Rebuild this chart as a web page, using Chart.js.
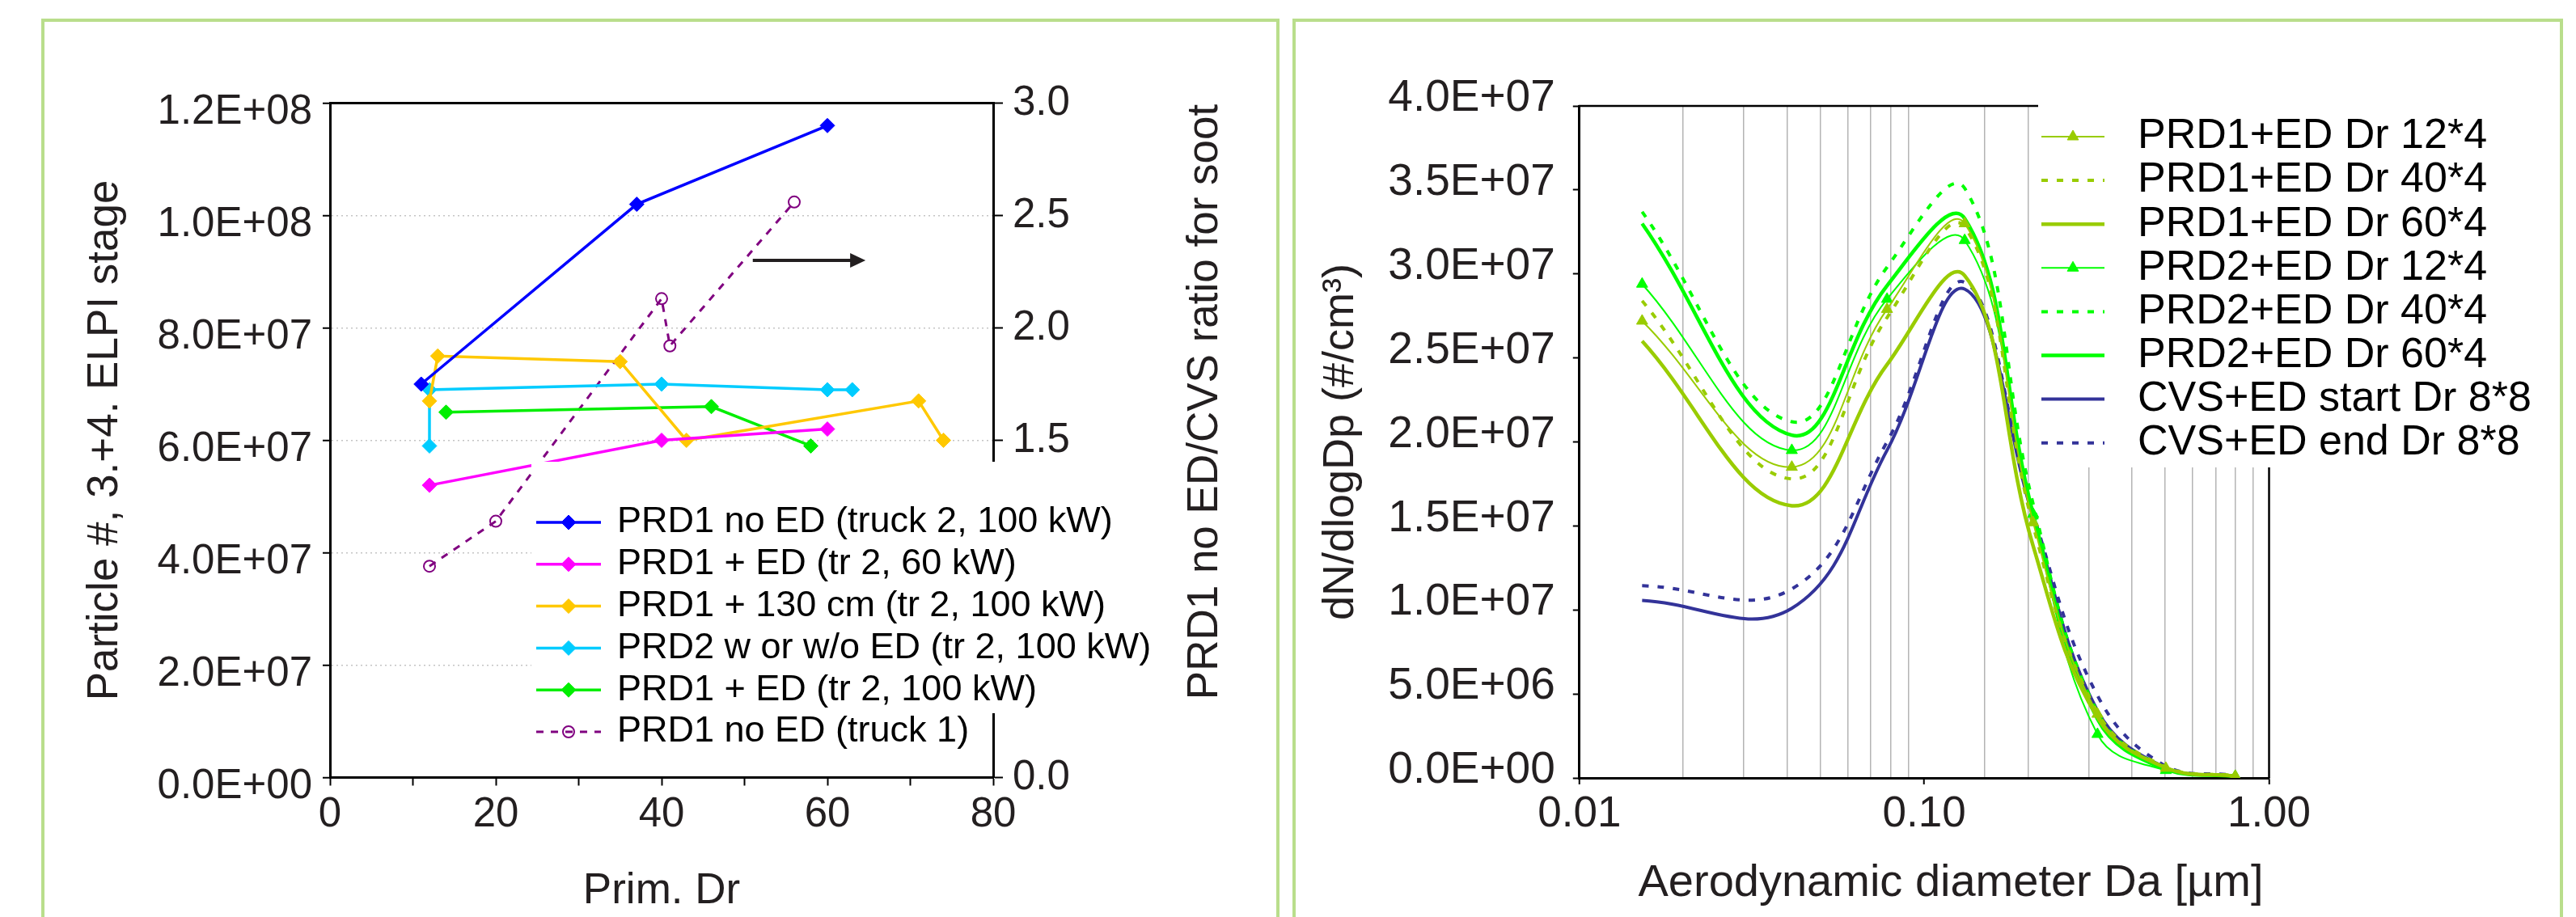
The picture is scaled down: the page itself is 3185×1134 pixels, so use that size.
<!DOCTYPE html>
<html>
<head>
<meta charset="utf-8">
<script src="https://cdn.jsdelivr.net/npm/chart.js@4.4.1/dist/chart.umd.min.js"></script>
<style>
  html, body { margin:0; padding:0; background:#ffffff; width:3185px; height:1134px; overflow:hidden; }
  .panel { position:absolute; border:4px solid #b9de8c; box-sizing:border-box; }
  #p1 { left:51px; top:23px; width:1531px; height:1200px; }
  #p2 { left:1598px; top:23px; width:1571px; height:1200px; }
  canvas { position:absolute; top:0; }
  #c1 { left:0; }
  #c2 { left:1590px; }
</style>
</head>
<body>
<div class="panel" id="p1"></div>
<div class="panel" id="p2"></div>
<canvas id="c1" width="1590" height="1134"></canvas>
<canvas id="c2" width="1595" height="1134"></canvas>
<script>
// ---------------- LEFT CHART DATA (Prim. Dr vs particle number / ratio) ----------------
const truck2NoEd_dr = [11, 37, 60];
const truck2NoEd_n  = [7.0e7, 1.02e8, 1.16e8];
const ed60_dr = [12, 40, 60];
const ed60_n  = [5.2e7, 6.0e7, 6.2e7];
const cm130_dr = [12, 13, 35, 43, 71, 74];
const cm130_n  = [6.7e7, 7.5e7, 7.4e7, 6.0e7, 6.7e7, 6.0e7];
const prd2_dr = [12, 12, 40, 60, 63];
const prd2_n  = [5.9e7, 6.9e7, 7.0e7, 6.9e7, 6.9e7];
const ed100_dr = [14, 46, 58];
const ed100_n  = [6.5e7, 6.6e7, 5.9e7];
const truck1_dr    = [12, 20, 40, 41, 56];
const truck1_ratio = [0.94, 1.14, 2.13, 1.92, 2.56];
const leftLabels = ['PRD1 no ED (truck 2, 100 kW)', 'PRD1 + ED (tr 2, 60 kW)', 'PRD1 + 130 cm (tr 2, 100 kW)',
                    'PRD2 w or w/o ED (tr 2, 100 kW)', 'PRD1 + ED (tr 2, 100 kW)', 'PRD1 no ED (truck 1)'];
const arrowNote = { from: 51, to: 64.6, at: 9.2e7 };   // arrow pointing to right axis (data units)

// ---------------- RIGHT CHART DATA (size distributions) ----------------
const diameterUm = [0.0152, 0.0413, 0.078, 0.131, 0.207, 0.318, 0.502, 0.798];
const prd1Ed12 = [2.72e7, 1.85e7, 2.79e7, 3.30e7, 1.52e7, 3.8e6, 5.8e5, 1.0e5];
const prd1Ed40 = [2.84e7, 1.78e7, 2.74e7, 3.28e7, 1.50e7, 3.9e6, 6.5e5, 1.2e5];
const prd1Ed60 = [2.60e7, 1.62e7, 2.46e7, 2.99e7, 1.38e7, 3.6e6, 6.0e5, 1.0e5];
const prd2Ed12 = [2.94e7, 1.95e7, 2.85e7, 3.20e7, 1.57e7, 2.6e6, 4.5e5, 1.0e5];
const prd2Ed40 = [3.37e7, 2.12e7, 3.04e7, 3.51e7, 1.63e7, 3.9e6, 6.0e5, 1.0e5];
const prd2Ed60 = [3.30e7, 2.04e7, 2.93e7, 3.33e7, 1.57e7, 3.5e6, 5.0e5, 1.0e5];
const cvsStart = [1.057e7, 1.01e7, 1.95e7, 2.91e7, 1.55e7, 4.0e6, 6.0e5, 1.0e5];
const cvsEnd   = [1.144e7, 1.125e7, 2.00e7, 2.95e7, 1.57e7, 4.9e6, 7.0e5, 1.5e5];
const rightLabels = ['PRD1+ED Dr 12*4', 'PRD1+ED Dr 40*4', 'PRD1+ED Dr 60*4', 'PRD2+ED Dr 12*4',
                     'PRD2+ED Dr 40*4', 'PRD2+ED Dr 60*4', 'CVS+ED start Dr 8*8', 'CVS+ED end Dr 8*8'];
const rightXTickLabels = { '-2': '0.01', '-1': '0.10', '0': '1.00' };

// ---------------- helpers ----------------
const FONT = "'Liberation Sans', Arial, Helvetica, sans-serif";
const TXT = '#231f20';
const zip = (xs, ys) => xs.map((x, i) => ({ x: x, y: ys[i] }));
function sciLabel(v) {
  if (v === 0) return '0.0E+00';
  const parts = Number(v).toExponential(1).split('e');
  const n = parseInt(parts[1], 10);
  return parts[0] + 'E' + (n < 0 ? '-' : '+') + String(Math.abs(n)).padStart(2, '0');
}
function logMajor(v) { const l = Math.log10(v); return Math.abs(l - Math.round(l)) < 1e-6; }

function drawMarker(ctx, style, x, y, r, fill, stroke, bw) {
  ctx.save();
  ctx.beginPath();
  if (style === 'rectRot') {
    ctx.moveTo(x - r, y); ctx.lineTo(x, y - r); ctx.lineTo(x + r, y); ctx.lineTo(x, y + r); ctx.closePath();
  } else if (style === 'triangle') {
    const h = r;
    ctx.moveTo(x, y - h);
    ctx.lineTo(x + Math.sin(2 * Math.PI / 3) * h, y - Math.cos(2 * Math.PI / 3) * h);
    ctx.lineTo(x + Math.sin(4 * Math.PI / 3) * h, y - Math.cos(4 * Math.PI / 3) * h);
    ctx.closePath();
  } else {
    ctx.arc(x, y, r, 0, Math.PI * 2);
  }
  ctx.fillStyle = fill; ctx.fill();
  if (bw > 0) { ctx.lineWidth = bw; ctx.strokeStyle = stroke; ctx.stroke(); }
  ctx.restore();
}

// custom legend drawn on a white box inside the plot
const boxLegend = {
  id: 'boxLegend',
  afterDraw(chart, args, o) {
    const ctx = chart.ctx;
    ctx.save();
    ctx.fillStyle = '#ffffff';
    ctx.fillRect(o.box[0], o.box[1], o.box[2], o.box[3]);
    chart.data.datasets.forEach((ds, i) => {
      const y = o.y0 + i * o.dy;
      ctx.save();
      ctx.beginPath();
      ctx.setLineDash(ds.borderDash || []);
      ctx.lineWidth = ds.borderWidth;
      ctx.strokeStyle = ds.borderColor;
      ctx.moveTo(o.x0, y); ctx.lineTo(o.x1, y); ctx.stroke();
      ctx.restore();
      if (ds.legendMarker) {
        const pr = Array.isArray(ds.pointRadius) ? ds.pointRadius[0] : ds.pointRadius;
        drawMarker(ctx, ds.pointStyle, (o.x0 + o.x1) / 2, y, pr,
                   ds.pointBackgroundColor || ds.borderColor, ds.pointBorderColor || ds.borderColor, ds.pointBorderWidth || 1);
      }
      ctx.fillStyle = '#000000';
      ctx.font = o.font;
      ctx.textBaseline = 'middle';
      ctx.textAlign = 'left';
      ctx.fillText(ds.label, o.tx, y);
    });
    ctx.restore();
  }
};

// frame lines (top and optional right) of plot area
const frame = {
  id: 'frame',
  beforeDatasetsDraw(chart, args, o) {
    const { ctx, chartArea: a } = chart;
    ctx.save();
    ctx.strokeStyle = '#000'; ctx.lineWidth = o.width;
    ctx.beginPath();
    ctx.moveTo(a.left - 1, a.top); ctx.lineTo(a.right + 1, a.top);
    if (o.right) { ctx.moveTo(a.right, a.top); ctx.lineTo(a.right, a.bottom); }
    ctx.stroke();
    ctx.restore();
  }
};

// free text (titles that Chart.js cannot place/rotate this way)
const freeText = {
  id: 'freeText',
  afterDraw(chart, args, o) {
    const ctx = chart.ctx;
    (o.items || []).forEach(t => {
      ctx.save();
      ctx.translate(t.x, t.y);
      ctx.rotate(t.rot || 0);
      ctx.font = t.font; ctx.fillStyle = TXT;
      ctx.textAlign = 'center'; ctx.textBaseline = 'middle';
      ctx.fillText(t.text, 0, 0);
      ctx.restore();
    });
  }
};

// arrow annotation placed through the scales
const arrow = {
  id: 'arrow',
  afterDatasetsDraw(chart) {
    const { ctx, scales } = chart;
    const x0 = scales.x.getPixelForValue(arrowNote.from);
    const x1 = scales.x.getPixelForValue(arrowNote.to);
    const y = scales.y.getPixelForValue(arrowNote.at);
    ctx.save();
    ctx.strokeStyle = '#231f20'; ctx.fillStyle = '#231f20'; ctx.lineWidth = 4;
    ctx.beginPath(); ctx.moveTo(x0, y); ctx.lineTo(x1 - 16, y); ctx.stroke();
    ctx.beginPath(); ctx.moveTo(x1, y); ctx.lineTo(x1 - 19, y - 9); ctx.lineTo(x1 - 19, y + 9); ctx.closePath(); ctx.fill();
    ctx.restore();
  }
};

// ---------------- LEFT CHART ----------------
function leftDs(label, xs, ys, color, extra) {
  return Object.assign({
    label: label, data: zip(xs, ys), borderColor: color, backgroundColor: color,
    pointBackgroundColor: color, pointBorderColor: color, pointBorderWidth: 1,
    pointStyle: 'rectRot', pointRadius: 9, borderWidth: 3.5, tension: 0,
    yAxisID: 'y', legendMarker: true
  }, extra || {});
}
new Chart(document.getElementById('c1'), {
  type: 'line',
  data: {
    datasets: [
      leftDs(leftLabels[0], truck2NoEd_dr, truck2NoEd_n, '#0000ff'),
      leftDs(leftLabels[1], ed60_dr, ed60_n, '#ff00ff'),
      leftDs(leftLabels[2], cm130_dr, cm130_n, '#ffc800'),
      leftDs(leftLabels[3], prd2_dr, prd2_n, '#00ccff'),
      leftDs(leftLabels[4], ed100_dr, ed100_n, '#00ee00'),
      leftDs(leftLabels[5], truck1_dr, truck1_ratio, '#800080', {
        yAxisID: 'y1', borderDash: [9, 9], borderWidth: 3, pointStyle: 'circle', pointRadius: 7,
        pointBackgroundColor: 'rgba(255,255,255,0)', pointBorderWidth: 2
      })
    ]
  },
  options: {
    responsive: false, animation: false, events: [],
    layout: { padding: { left: 95, right: 0, top: 127.5, bottom: 0 } },
    plugins: {
      legend: { display: false }, tooltip: { enabled: false },
      frame: { width: 3, right: false },
      boxLegend: { box: [657, 571, 790, 311], x0: 663, x1: 743, tx: 763, y0: 646, dy: 51.8, font: '45px ' + FONT },
      freeText: { items: [{ text: 'PRD1 no ED/CVS ratio for soot', x: 1490, y: 497, rot: -Math.PI / 2, font: '53px ' + FONT }] }
    },
    scales: {
      x: {
        type: 'linear', min: 0, max: 80,
        ticks: { stepSize: 10, autoSkip: false, maxRotation: 0, color: TXT, padding: 6,
                 font: { family: FONT, size: 51 }, callback: v => (v % 20 === 0 ? String(v) : '') },
        grid: { drawOnChartArea: false, tickLength: 10, tickColor: '#000', tickWidth: 2 },
        border: { color: '#000', width: 3 },
        title: { display: true, text: 'Prim. Dr', color: TXT, font: { family: FONT, size: 53 }, padding: 0 },
        afterFit: s => { s.height = 172.5; }
      },
      y: {
        position: 'left', min: 0, max: 1.2e8,
        ticks: { stepSize: 2e7, color: TXT, padding: 13, labelOffset: 11,
                 font: { family: FONT, size: 51 }, callback: v => sciLabel(v) },
        grid: { color: '#c4c4c4', lineWidth: 1.5, tickLength: 9, tickColor: '#000', tickWidth: 2 },
        border: { color: '#000', width: 3, dash: [2, 4] },
        title: { display: true, text: 'Particle #, 3.+4. ELPI stage', color: TXT,
                 font: { family: FONT, size: 53 }, padding: { top: 4, bottom: 4 } },
        afterFit: s => { s.width = 313; }
      },
      y1: {
        position: 'right', min: 0, max: 3,
        ticks: { stepSize: 0.5, color: TXT, padding: 12, font: { family: FONT, size: 51 },
                 callback: v => Number(v).toFixed(1) },
        grid: { drawOnChartArea: false, tickLength: 12, tickColor: '#000', tickWidth: 2 },
        border: { color: '#000', width: 3 },
        afterFit: s => { s.width = 362; }
      }
    }
  },
  plugins: [frame, arrow, boxLegend, freeText]
});

// ---------------- RIGHT CHART ----------------
const YG = '#99cc00', GR = '#00ff00', BL = '#333399';
function rightDs(label, ys, color, width, dash, markers) {
  return {
    label: label, data: zip(diameterUm, ys), borderColor: color, backgroundColor: color,
    pointBackgroundColor: color, pointBorderColor: color, pointBorderWidth: 1,
    borderWidth: width, borderDash: dash, tension: 0.4,
    pointStyle: 'triangle', pointRadius: markers ? 8 : 0, legendMarker: markers
  };
}
new Chart(document.getElementById('c2'), {
  type: 'line',
  data: {
    datasets: [
      rightDs(rightLabels[0], prd1Ed12, YG, 2, [], true),
      rightDs(rightLabels[1], prd1Ed40, YG, 4, [8, 11], false),
      rightDs(rightLabels[2], prd1Ed60, YG, 4.5, [], false),
      rightDs(rightLabels[3], prd2Ed12, GR, 2, [], true),
      rightDs(rightLabels[4], prd2Ed40, GR, 4, [8, 11], false),
      rightDs(rightLabels[5], prd2Ed60, GR, 4.5, [], false),
      rightDs(rightLabels[6], cvsStart, BL, 4, [], false),
      rightDs(rightLabels[7], cvsEnd, BL, 4, [8, 11], false)
    ]
  },
  options: {
    responsive: false, animation: false, events: [],
    layout: { padding: { left: 31.8, right: 379.5, top: 131, bottom: 10 } },
    plugins: {
      legend: { display: false }, tooltip: { enabled: false },
      frame: { width: 2.5, right: true },
      boxLegend: { box: [930, 98, 640, 480], x0: 934, x1: 1012, tx: 1053, y0: 169, dy: 54.1, font: '52px ' + FONT },
      freeText: { items: [{ text: 'Aerodynamic diameter Da [µm]', x: 822, y: 1093, rot: 0, font: '56px ' + FONT }] }
    },
    scales: {
      x: {
        type: 'logarithmic', min: 0.01, max: 1,
        ticks: { autoSkip: false, maxRotation: 0, color: TXT, padding: 5.5, font: { family: FONT, size: 53 },
                 callback: v => (logMajor(v) ? rightXTickLabels[String(Math.round(Math.log10(v)))] : '') },
        grid: {
          lineWidth: 1.5, tickLength: 8, tickWidth: 2,
          color: c => (c.tick && !logMajor(c.tick.value) ? '#b4b4b4' : 'rgba(0,0,0,0)'),
          tickColor: c => (c.tick && logMajor(c.tick.value) ? '#000' : 'rgba(0,0,0,0)')
        },
        border: { color: '#000', width: 3 },
        title: { display: false },
        afterFit: s => { s.height = 162; }
      },
      y: {
        position: 'left', min: 0, max: 4e7,
        ticks: { stepSize: 5e6, color: TXT, padding: 22, labelOffset: -9,
                 font: { family: FONT, size: 55 }, callback: v => sciLabel(v) },
        grid: { drawOnChartArea: false, tickLength: 8, tickColor: '#000', tickWidth: 2 },
        border: { color: '#000', width: 3 },
        title: { display: true, text: 'dN/dlogDp (#/cm³)', color: TXT,
                 font: { family: FONT, size: 54 }, padding: { top: 4, bottom: 4 } },
        afterFit: s => { s.width = 331; }
      }
    }
  },
  plugins: [frame, boxLegend, freeText]
});
</script>
</body>
</html>
